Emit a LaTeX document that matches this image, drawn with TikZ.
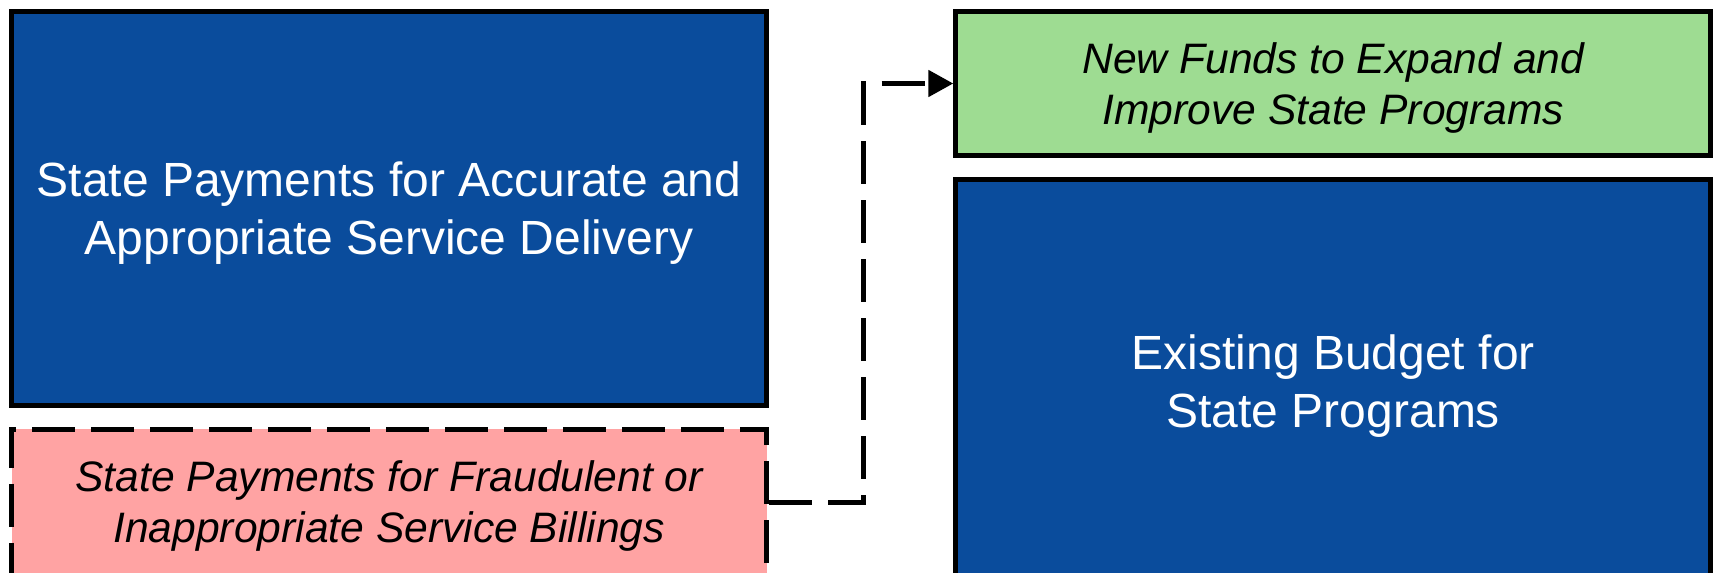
\documentclass[tikz,border=0pt]{standalone}
\usepackage{fontspec}
\setmainfont{Liberation Sans}
\usetikzlibrary{arrows.meta,positioning}
\definecolor{stateblue}{RGB}{10,76,156}
\definecolor{fundgreen}{RGB}{158,220,146}
\definecolor{fraudpink}{RGB}{255,163,163}

\begin{document}
\begin{tikzpicture}[x=0.5pt,y=-0.5pt,
    box/.style={rectangle,draw=black,line width=2.5pt,align=center,inner sep=0pt,text depth=0pt},
    bluebox/.style={box,fill=stateblue,text=white,font=\fontsize{24}{29}\selectfont},
    notebox/.style={box,font=\fontsize{21.3}{25.5}\selectfont\itshape},
    gapdash/.style={dash pattern=on 21.5pt off 8pt}]
  \clip (0,0) rectangle (1714,573);
  % left column
  \node[bluebox,minimum width=377.6pt,minimum height=196.75pt] (accurate) at (389.1,208.25)
    {State Payments for Accurate and\\Appropriate Service Delivery};
  \node[notebox,gapdash,fill=fraudpink,minimum width=377.6pt,minimum height=73pt] (fraud) at (389.1,502)
    {State Payments for Fraudulent or\\Inappropriate Service Billings};
  % right column
  \node[notebox,fill=fundgreen,minimum width=377.5pt,minimum height=72pt] (newfunds) at (1333.3,83.5)
    {New Funds to Expand and\\Improve State Programs};
  \node[bluebox,minimum width=377.5pt,minimum height=201.9pt] (budget) at (1333.3,381.1)
    {Existing Budget for\\State Programs};
  \draw[gapdash,line width=2.5pt,-{Triangle[length=12.5pt,width=13pt]}]
    (fraud.east) -- ++(94.5,0) |- (newfunds.west);
\end{tikzpicture}
\end{document}
